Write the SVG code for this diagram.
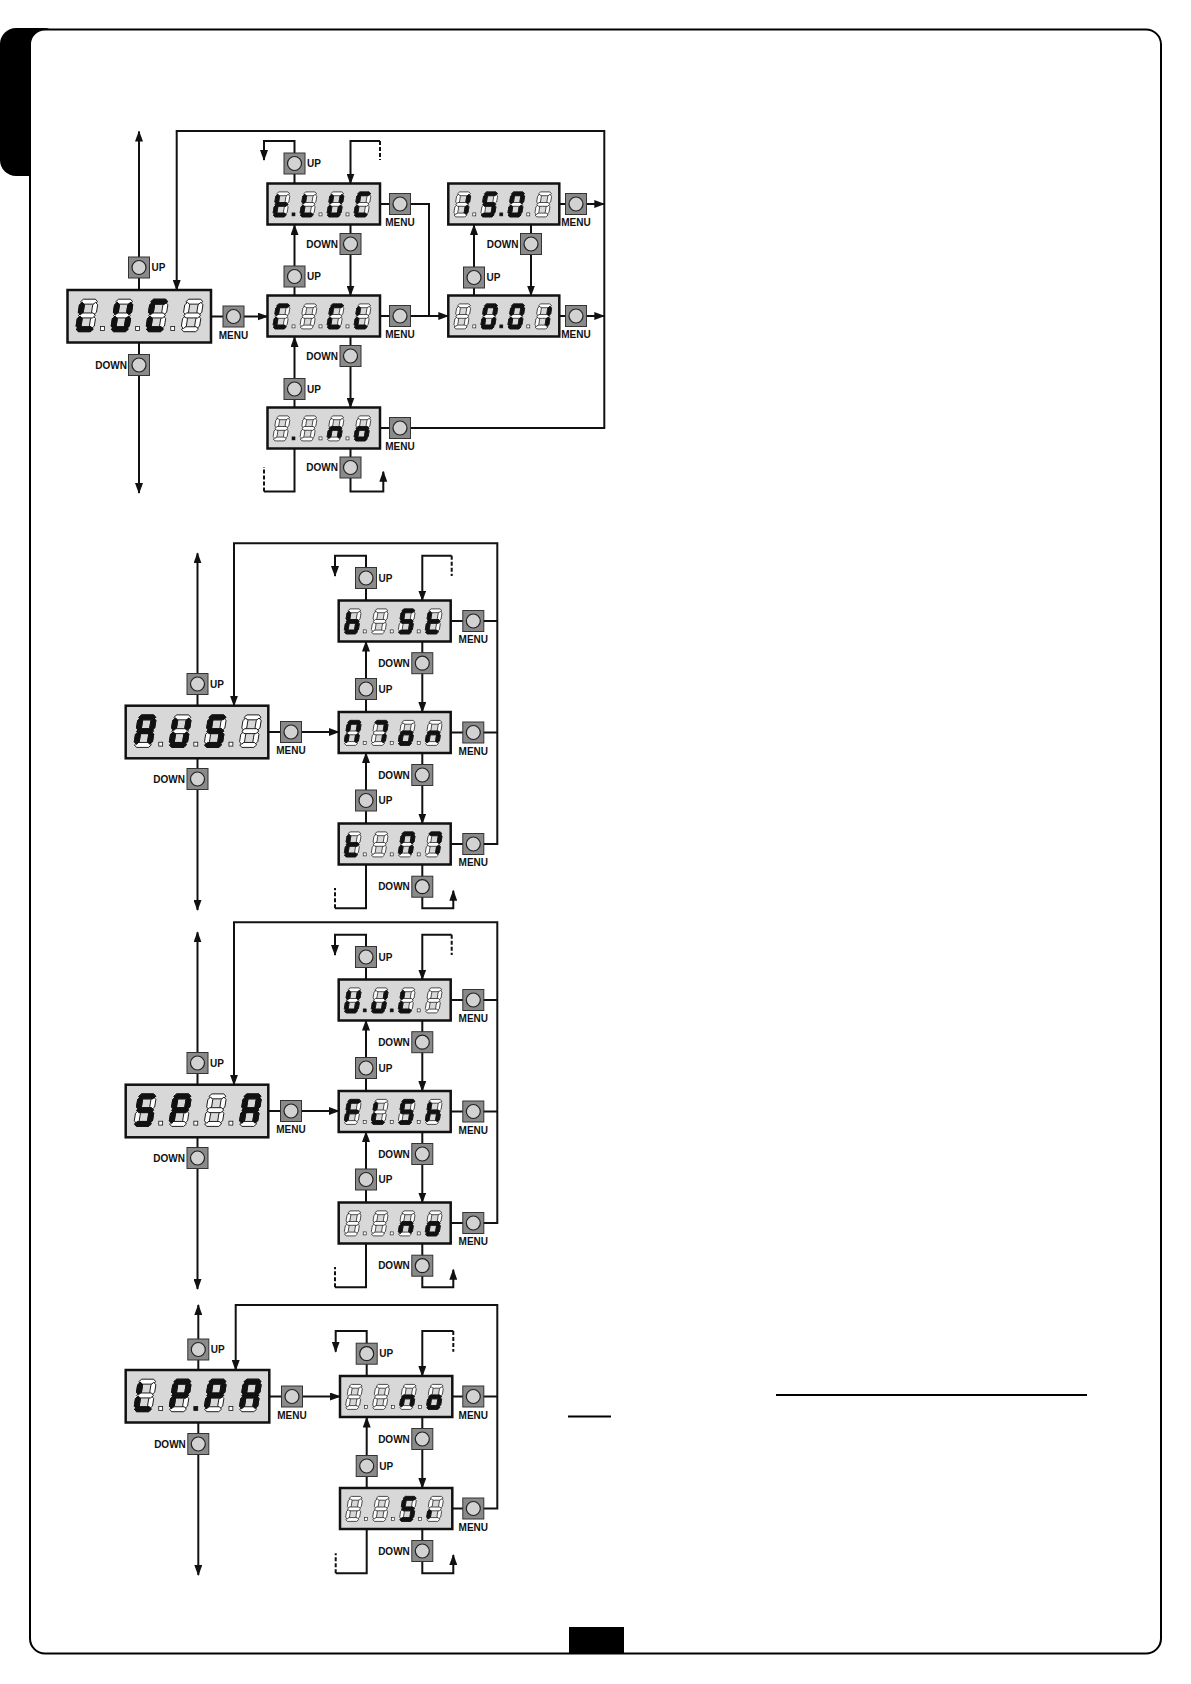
<svg xmlns="http://www.w3.org/2000/svg" width="1191" height="1684" viewBox="0 0 1191 1684">
<style>
.disp{fill:#d8d8d8;stroke:#111;stroke-width:2.5}
.cn{fill:none;stroke:#111;stroke-width:2}
.ar{marker-end:url(#ah)}
.dash{fill:none;stroke:#111;stroke-width:2;stroke-dasharray:4 2}
.lbl{font-family:"Liberation Sans",Arial,sans-serif;font-weight:bold;font-size:10px;fill:#111}
.dn{text-anchor:end}
.mn{text-anchor:middle}
</style>
<defs>
<marker id="ah" viewBox="0 0 11 8" refX="10" refY="4" markerWidth="11" markerHeight="8" markerUnits="userSpaceOnUse" orient="auto"><path d="M0,0 L11,4 L0,8 z" fill="#111"/></marker>
<polygon id="sa" points="0.5,-23.1 2.4,-25 11.6,-25 13.5,-23.1 11.6,-21.2 2.4,-21.2"/>
<polygon id="sg" points="0.5,-12.5 2.4,-14.4 11.6,-14.4 13.5,-12.5 11.6,-10.6 2.4,-10.6"/>
<polygon id="sd" points="0.5,-1.9 2.4,-3.8 11.6,-3.8 13.5,-1.9 11.6,0 2.4,0"/>
<polygon id="sf" points="1.9,-22.6 3.8,-20.7 3.8,-14.9 1.9,-13 0,-14.9 0,-20.7"/>
<polygon id="sb" points="12.1,-22.6 14,-20.7 14,-14.9 12.1,-13 10.2,-14.9 10.2,-20.7"/>
<polygon id="se" points="1.9,-12 3.8,-10.1 3.8,-4.3 1.9,-2.4 0,-4.3 0,-10.1"/>
<polygon id="sc" points="12.1,-12 14,-10.1 14,-4.3 12.1,-2.4 10.2,-4.3 10.2,-10.1"/>
<g id="g8" transform="skewX(-9)" fill="#fff" stroke="#111" stroke-width="0.7"><use href="#sa"/><use href="#sb"/><use href="#sc"/><use href="#sd"/><use href="#se"/><use href="#sf"/><use href="#sg"/></g>
<g id="gL"><use href="#g8"/><g transform="skewX(-9)" fill="#111" stroke="#111" stroke-width="0.7"><use href="#sd"/><use href="#se"/><use href="#sf"/></g></g>
<g id="gU"><use href="#g8"/><g transform="skewX(-9)" fill="#111" stroke="#111" stroke-width="0.7"><use href="#sb"/><use href="#sc"/><use href="#sd"/><use href="#se"/><use href="#sf"/></g></g>
<g id="gC"><use href="#g8"/><g transform="skewX(-9)" fill="#111" stroke="#111" stroke-width="0.7"><use href="#sa"/><use href="#sd"/><use href="#se"/><use href="#sf"/></g></g>
<g id="gt"><use href="#g8"/><g transform="skewX(-9)" fill="#111" stroke="#111" stroke-width="0.7"><use href="#sd"/><use href="#se"/><use href="#sf"/><use href="#sg"/></g></g>
<g id="gA"><use href="#g8"/><g transform="skewX(-9)" fill="#111" stroke="#111" stroke-width="0.7"><use href="#sa"/><use href="#sb"/><use href="#sc"/><use href="#se"/><use href="#sf"/><use href="#sg"/></g></g>
<g id="gS"><use href="#g8"/><g transform="skewX(-9)" fill="#111" stroke="#111" stroke-width="0.7"><use href="#sa"/><use href="#sc"/><use href="#sd"/><use href="#sf"/><use href="#sg"/></g></g>
<g id="gb"><use href="#g8"/><g transform="skewX(-9)" fill="#111" stroke="#111" stroke-width="0.7"><use href="#sc"/><use href="#sd"/><use href="#se"/><use href="#sf"/><use href="#sg"/></g></g>
<g id="gM1"><use href="#g8"/><g transform="skewX(-9)" fill="#111" stroke="#111" stroke-width="0.7"><use href="#sa"/><use href="#sb"/><use href="#sc"/><use href="#se"/><use href="#sf"/></g></g>
<g id="gM2"><use href="#g8"/><g transform="skewX(-9)" fill="#111" stroke="#111" stroke-width="0.7"><use href="#sa"/><use href="#sb"/><use href="#sc"/></g></g>
<g id="go"><use href="#g8"/><g transform="skewX(-9)" fill="#111" stroke="#111" stroke-width="0.7"><use href="#sc"/><use href="#sd"/><use href="#se"/><use href="#sg"/></g></g>
<g id="gn"><use href="#g8"/><g transform="skewX(-9)" fill="#111" stroke="#111" stroke-width="0.7"><use href="#sc"/><use href="#se"/><use href="#sg"/></g></g>
<g id="gF"><use href="#g8"/><g transform="skewX(-9)" fill="#111" stroke="#111" stroke-width="0.7"><use href="#sa"/><use href="#se"/><use href="#sf"/><use href="#sg"/></g></g>
<g id="gh"><use href="#g8"/><g transform="skewX(-9)" fill="#111" stroke="#111" stroke-width="0.7"><use href="#sc"/><use href="#se"/><use href="#sf"/><use href="#sg"/></g></g>
<g id="gP"><use href="#g8"/><g transform="skewX(-9)" fill="#111" stroke="#111" stroke-width="0.7"><use href="#sa"/><use href="#sb"/><use href="#se"/><use href="#sf"/><use href="#sg"/></g></g>
<g id="g1"><use href="#g8"/><g transform="skewX(-9)" fill="#111" stroke="#111" stroke-width="0.7"><use href="#sb"/><use href="#sc"/></g></g>
<g id="g0"><use href="#g8"/><g transform="skewX(-9)" fill="#111" stroke="#111" stroke-width="0.7"><use href="#sa"/><use href="#sb"/><use href="#sc"/><use href="#sd"/><use href="#se"/><use href="#sf"/></g></g>
<g id="gi"><use href="#g8"/><g transform="skewX(-9)" fill="#111" stroke="#111" stroke-width="0.7"><use href="#se"/></g></g>
<g id="gJ"><use href="#g8"/><g transform="skewX(-9)" fill="#111" stroke="#111" stroke-width="0.7"><use href="#sb"/><use href="#sc"/><use href="#sd"/><use href="#se"/></g></g>
<rect id="dp0" x="-1.5" y="-4" width="3" height="3" fill="#fff" stroke="#111" stroke-width="0.6"/>
<rect id="dp1" x="-1.5" y="-4" width="3" height="3" fill="#111" stroke="#111" stroke-width="0.6"/>
<g id="btn"><rect x="-10.5" y="-10.5" width="21" height="21" fill="#8a8a8a" stroke="#333" stroke-width="1"/><circle r="7" fill="#d2d2d2" stroke="#222" stroke-width="1.2"/></g>
</defs>

<g id="page">
<rect x="0" y="28" width="60" height="148" rx="16" fill="#000"/>
<rect x="30" y="29.5" width="1131" height="1624" rx="15" fill="#fff" stroke="#000" stroke-width="2"/>
<rect x="569" y="1627" width="55" height="27" fill="#000"/>
<line x1="776" y1="1395" x2="1087" y2="1395" stroke="#000" stroke-width="2"/>
<line x1="568" y1="1416.5" x2="611" y2="1416.5" stroke="#000" stroke-width="2"/>
</g>

<g id="connectors">
<!-- section 1 -->
<path class="cn ar" d="M139,290 V131.5"/>
<path class="cn ar" d="M139,342.5 V493"/>
<path class="cn ar" d="M211,316.5 H267.5"/>
<path class="cn ar" d="M380,428 H604.3 V131 H176.7 V290"/>
<path class="cn ar" d="M294.5,183.5 V141 H264 V160"/>
<path class="cn ar" d="M380,141 H350.5 V183.5"/>
<path class="dash" d="M380,141 V160"/>
<path class="cn ar" d="M294.5,295.5 V225"/>
<path class="cn ar" d="M350.5,225 V295.5"/>
<path class="cn ar" d="M294.5,407.5 V337"/>
<path class="cn ar" d="M350.5,337 V407.5"/>
<path class="cn" d="M294.5,448.5 V491.5 H264"/>
<path class="dash" d="M264,491.5 V467"/>
<path class="cn ar" d="M350.5,448.5 V491.5 H383.3 V471.7"/>
<path class="cn" d="M380,204 H429 V316"/>
<path class="cn ar" d="M380,316 H448.3"/>
<path class="cn ar" d="M474,295.5 V225"/>
<path class="cn ar" d="M531,225 V295.5"/>
<path class="cn ar" d="M559.3,204 H604.3"/>
<path class="cn ar" d="M559.3,316 H604.3"/>
<!-- section 2 and 3 -->
<g id="conn-s2">
<path class="cn ar" d="M197.5,705.7 V553.3"/>
<path class="cn ar" d="M197.5,758.3 V910"/>
<path class="cn ar" d="M268.3,732 H338.7"/>
<path class="cn ar" d="M450.7,844 H497.3 V543.3 H234 V705.7"/>
<path class="cn" d="M450.7,621 H497.3"/>
<path class="cn" d="M450.7,732.5 H497.3"/>
<path class="cn ar" d="M366,600.5 V555.7 H335 V576"/>
<path class="cn ar" d="M451.7,555.7 H422.3 V600.5"/>
<path class="dash" d="M451.7,555.7 V576"/>
<path class="cn ar" d="M366,712 V641.5"/>
<path class="cn ar" d="M422.3,641.5 V712"/>
<path class="cn ar" d="M366,823.5 V753"/>
<path class="cn ar" d="M422.3,753 V823.5"/>
<path class="cn" d="M366,864.5 V908.3 H335"/>
<path class="dash" d="M335,908.3 V888"/>
<path class="cn ar" d="M422.3,864.5 V908.3 H453.3 V890.7"/>
</g>
<g id="conn-s3" transform="translate(0,379)">
<path class="cn ar" d="M197.5,705.7 V553.3"/>
<path class="cn ar" d="M197.5,758.3 V910"/>
<path class="cn ar" d="M268.3,732 H338.7"/>
<path class="cn ar" d="M450.7,844 H497.3 V543.3 H234 V705.7"/>
<path class="cn" d="M450.7,621 H497.3"/>
<path class="cn" d="M450.7,732.5 H497.3"/>
<path class="cn ar" d="M366,600.5 V555.7 H335 V576"/>
<path class="cn ar" d="M451.7,555.7 H422.3 V600.5"/>
<path class="dash" d="M451.7,555.7 V576"/>
<path class="cn ar" d="M366,712 V641.5"/>
<path class="cn ar" d="M422.3,641.5 V712"/>
<path class="cn ar" d="M366,823.5 V753"/>
<path class="cn ar" d="M422.3,753 V823.5"/>
<path class="cn" d="M366,864.5 V908.3 H335"/>
<path class="dash" d="M335,908.3 V888"/>
<path class="cn ar" d="M422.3,864.5 V908.3 H453.3 V890.7"/>
</g>
<!-- section 4 -->
<path class="cn ar" d="M198.3,1370 V1305"/>
<path class="cn ar" d="M198.3,1422.5 V1575"/>
<path class="cn ar" d="M269.3,1396.5 H340"/>
<path class="cn ar" d="M452.3,1508.5 H497.3 V1305 H235.7 V1370"/>
<path class="cn" d="M452.3,1396.5 H497.3"/>
<path class="cn ar" d="M366.7,1376 V1331 H335.7 V1351.7"/>
<path class="cn ar" d="M453.3,1331 H422.3 V1376"/>
<path class="dash" d="M453.3,1331 V1351.7"/>
<path class="cn ar" d="M366.7,1488 V1417.5"/>
<path class="cn ar" d="M422.3,1417.5 V1488"/>
<path class="cn" d="M366.7,1529 V1573.3 H335.7"/>
<path class="dash" d="M335.7,1573.3 V1553.3"/>
<path class="cn ar" d="M422.3,1529 V1573.3 H453.3 V1555"/>
</g>

<g id="nodes">
<!-- Section 1 displays -->
<g id="n-luci" transform="translate(67.5,290)"><rect class="disp" width="143.5" height="52.5"/><g transform="translate(7.7,41.7) scale(1.3)"><use href="#gL"/><use href="#gU" x="27"/><use href="#gC" x="54"/><use href="#g8" x="81"/><use href="#dp0" x="21"/><use href="#dp0" x="48"/><use href="#dp0" x="75"/></g></g>
<g id="n-tluc" transform="translate(267.5,183.5)"><rect class="disp" width="112.5" height="41"/><g transform="translate(5,33.4)"><use href="#gt"/><use href="#gL" x="27"/><use href="#gU" x="54"/><use href="#gC" x="81"/><use href="#dp1" x="21"/><use href="#dp0" x="48"/><use href="#dp0" x="75"/></g></g>
<g id="n-cicl" transform="translate(267.5,295.5)"><rect class="disp" width="112.5" height="41"/><g transform="translate(5,33.4)"><use href="#gC"/><use href="#g8" x="27"/><use href="#gC" x="54"/><use href="#gL" x="81"/><use href="#dp0" x="21"/><use href="#dp0" x="48"/><use href="#dp0" x="75"/></g></g>
<g id="n-s1no" transform="translate(267.5,407.5)"><rect class="disp" width="112.5" height="41"/><g transform="translate(5,33.4)"><use href="#g8"/><use href="#g8" x="27"/><use href="#gn" x="54"/><use href="#go" x="81"/><use href="#dp1" x="21"/><use href="#dp0" x="48"/><use href="#dp0" x="75"/></g></g>
<g id="n-1501" transform="translate(448.3,183.5)"><rect class="disp" width="111" height="41"/><g transform="translate(5,33.4)"><use href="#g1"/><use href="#gS" x="27"/><use href="#g0" x="54"/><use href="#g8" x="81"/><use href="#dp0" x="21"/><use href="#dp1" x="48"/><use href="#dp0" x="75"/></g></g>
<g id="n-001" transform="translate(448.3,295.5)"><rect class="disp" width="111" height="41"/><g transform="translate(5,33.4)"><use href="#g8"/><use href="#g0" x="27"/><use href="#g0" x="54"/><use href="#g1" x="81"/><use href="#dp0" x="21"/><use href="#dp1" x="48"/><use href="#dp0" x="75"/></g></g>

<!-- Section 2 displays -->
<g id="n-aus" transform="translate(125.7,705.7)"><rect class="disp" width="142.6" height="52.6"/><g transform="translate(7.7,41.7) scale(1.3)"><use href="#gA"/><use href="#gU" x="27"/><use href="#gS" x="54"/><use href="#g8" x="81"/><use href="#dp0" x="21"/><use href="#dp0" x="48"/><use href="#dp0" x="75"/></g></g>
<g id="n-bist" transform="translate(338.7,600.5)"><rect class="disp" width="112" height="41"/><g transform="translate(5,33.4)"><use href="#gb"/><use href="#g8" x="27"/><use href="#gS" x="54"/><use href="#gt" x="81"/><use href="#dp0" x="21"/><use href="#dp0" x="48"/><use href="#dp0" x="75"/></g></g>
<g id="n-mon" transform="translate(338.7,712)"><rect class="disp" width="112" height="41"/><g transform="translate(5,33.4)"><use href="#gM1"/><use href="#gM2" x="27"/><use href="#go" x="54"/><use href="#gn" x="81"/><use href="#dp0" x="21"/><use href="#dp0" x="48"/><use href="#dp0" x="75"/></g></g>
<g id="n-tim" transform="translate(338.7,823.5)"><rect class="disp" width="112" height="41"/><g transform="translate(5,33.4)"><use href="#gt"/><use href="#g8" x="27"/><use href="#gM1" x="54"/><use href="#gM2" x="81"/><use href="#dp0" x="21"/><use href="#dp0" x="48"/><use href="#dp0" x="75"/></g></g>

<!-- Section 3 displays -->
<g id="n-spia" transform="translate(125.7,1084.7)"><rect class="disp" width="142.6" height="52.6"/><g transform="translate(7.7,41.7) scale(1.3)"><use href="#gS"/><use href="#gP" x="27"/><use href="#g8" x="54"/><use href="#gA" x="81"/><use href="#dp0" x="21"/><use href="#dp0" x="48"/><use href="#dp0" x="75"/></g></g>
<g id="n-wl" transform="translate(338.7,979.5)"><rect class="disp" width="112" height="41"/><g transform="translate(5,33.4)"><use href="#gU"/><use href="#gJ" x="27"/><use href="#gL" x="54"/><use href="#g8" x="81"/><use href="#dp1" x="21"/><use href="#dp1" x="48"/><use href="#dp0" x="75"/></g></g>
<g id="n-flsh" transform="translate(338.7,1091)"><rect class="disp" width="112" height="41"/><g transform="translate(5,33.4)"><use href="#gF"/><use href="#gL" x="27"/><use href="#gS" x="54"/><use href="#gh" x="81"/><use href="#dp0" x="21"/><use href="#dp0" x="48"/><use href="#dp0" x="75"/></g></g>
<g id="n-s3no" transform="translate(338.7,1202.5)"><rect class="disp" width="112" height="41"/><g transform="translate(5,33.4)"><use href="#g8"/><use href="#g8" x="27"/><use href="#gn" x="54"/><use href="#go" x="81"/><use href="#dp0" x="21"/><use href="#dp0" x="48"/><use href="#dp0" x="75"/></g></g>

<!-- Section 4 displays -->
<g id="n-lppa" transform="translate(125.7,1370)"><rect class="disp" width="143.6" height="52.5"/><g transform="translate(7.7,41.7) scale(1.3)"><use href="#gL"/><use href="#gP" x="27"/><use href="#gP" x="54"/><use href="#gA" x="81"/><use href="#dp0" x="21"/><use href="#dp1" x="48"/><use href="#dp0" x="75"/></g></g>
<g id="n-s4no" transform="translate(340,1376)"><rect class="disp" width="112.3" height="41"/><g transform="translate(5,33.4)"><use href="#g8"/><use href="#g8" x="27"/><use href="#gn" x="54"/><use href="#go" x="81"/><use href="#dp0" x="21"/><use href="#dp0" x="48"/><use href="#dp0" x="75"/></g></g>
<g id="n-si" transform="translate(340,1488)"><rect class="disp" width="112.3" height="41"/><g transform="translate(5,33.4)"><use href="#g8"/><use href="#g8" x="27"/><use href="#gS" x="54"/><use href="#gi" x="81"/><use href="#dp0" x="21"/><use href="#dp0" x="48"/><use href="#dp0" x="75"/></g></g>

<!-- Section 1 buttons -->
<g id="b1-up0"><use href="#btn" x="139" y="267.5"/><text class="lbl" x="151.5" y="271.1">UP</text></g>
<g id="b1-dn0"><use href="#btn" x="139" y="365"/><text class="lbl dn" x="127" y="368.6">DOWN</text></g>
<g id="b1-mn0"><use href="#btn" x="233.5" y="316.5"/><text class="lbl mn" x="233.5" y="338.5">MENU</text></g>
<g id="b1-up1"><use href="#btn" x="294.5" y="163.5"/><text class="lbl" x="307" y="167.1">UP</text></g>
<g id="b1-dn1"><use href="#btn" x="350.5" y="244"/><text class="lbl dn" x="338" y="247.6">DOWN</text></g>
<g id="b1-up2"><use href="#btn" x="294.5" y="276.5"/><text class="lbl" x="307" y="280.1">UP</text></g>
<g id="b1-dn2"><use href="#btn" x="350.5" y="356"/><text class="lbl dn" x="338" y="359.6">DOWN</text></g>
<g id="b1-up3"><use href="#btn" x="294.5" y="389"/><text class="lbl" x="307" y="392.6">UP</text></g>
<g id="b1-dn3"><use href="#btn" x="350.5" y="467.5"/><text class="lbl dn" x="338" y="471.1">DOWN</text></g>
<g id="b1-mn1"><use href="#btn" x="400" y="204"/><text class="lbl mn" x="400" y="226">MENU</text></g>
<g id="b1-mn2"><use href="#btn" x="400" y="316"/><text class="lbl mn" x="400" y="338">MENU</text></g>
<g id="b1-mn3"><use href="#btn" x="400" y="428"/><text class="lbl mn" x="400" y="450">MENU</text></g>
<g id="b1-dn4"><use href="#btn" x="531" y="244"/><text class="lbl dn" x="518.5" y="247.6">DOWN</text></g>
<g id="b1-up4"><use href="#btn" x="474" y="277.5"/><text class="lbl" x="486.5" y="281.1">UP</text></g>
<g id="b1-mn4"><use href="#btn" x="576" y="204"/><text class="lbl mn" x="576" y="226">MENU</text></g>
<g id="b1-mn5"><use href="#btn" x="576" y="316"/><text class="lbl mn" x="576" y="338">MENU</text></g>

<!-- Section 2 buttons -->
<g id="b2-up0"><use href="#btn" x="197.5" y="684"/><text class="lbl" x="210" y="687.6">UP</text></g>
<g id="b2-dn0"><use href="#btn" x="197.5" y="779"/><text class="lbl dn" x="185" y="782.6">DOWN</text></g>
<g id="b2-mn0"><use href="#btn" x="291" y="732"/><text class="lbl mn" x="291" y="754">MENU</text></g>
<g id="b2-up1"><use href="#btn" x="366" y="578"/><text class="lbl" x="378.5" y="581.6">UP</text></g>
<g id="b2-dn1"><use href="#btn" x="422.3" y="663.2"/><text class="lbl dn" x="409.8" y="666.8">DOWN</text></g>
<g id="b2-up2"><use href="#btn" x="366" y="689"/><text class="lbl" x="378.5" y="692.6">UP</text></g>
<g id="b2-dn2"><use href="#btn" x="422.3" y="775"/><text class="lbl dn" x="409.8" y="778.6">DOWN</text></g>
<g id="b2-up3"><use href="#btn" x="366" y="800.5"/><text class="lbl" x="378.5" y="804.1">UP</text></g>
<g id="b2-dn3"><use href="#btn" x="422.3" y="886.7"/><text class="lbl dn" x="409.8" y="890.3">DOWN</text></g>
<g id="b2-mn1"><use href="#btn" x="473.3" y="621"/><text class="lbl mn" x="473.3" y="643">MENU</text></g>
<g id="b2-mn2"><use href="#btn" x="473.3" y="732.5"/><text class="lbl mn" x="473.3" y="754.5">MENU</text></g>
<g id="b2-mn3"><use href="#btn" x="473.3" y="844"/><text class="lbl mn" x="473.3" y="866">MENU</text></g>

<!-- Section 3 buttons -->
<g id="b3-up0"><use href="#btn" x="197.5" y="1063"/><text class="lbl" x="210" y="1066.6">UP</text></g>
<g id="b3-dn0"><use href="#btn" x="197.5" y="1158"/><text class="lbl dn" x="185" y="1161.6">DOWN</text></g>
<g id="b3-mn0"><use href="#btn" x="291" y="1111"/><text class="lbl mn" x="291" y="1133">MENU</text></g>
<g id="b3-up1"><use href="#btn" x="366" y="957"/><text class="lbl" x="378.5" y="960.6">UP</text></g>
<g id="b3-dn1"><use href="#btn" x="422.3" y="1042.2"/><text class="lbl dn" x="409.8" y="1045.8">DOWN</text></g>
<g id="b3-up2"><use href="#btn" x="366" y="1068"/><text class="lbl" x="378.5" y="1071.6">UP</text></g>
<g id="b3-dn2"><use href="#btn" x="422.3" y="1154"/><text class="lbl dn" x="409.8" y="1157.6">DOWN</text></g>
<g id="b3-up3"><use href="#btn" x="366" y="1179.5"/><text class="lbl" x="378.5" y="1183.1">UP</text></g>
<g id="b3-dn3"><use href="#btn" x="422.3" y="1265.7"/><text class="lbl dn" x="409.8" y="1269.3">DOWN</text></g>
<g id="b3-mn1"><use href="#btn" x="473.3" y="1000"/><text class="lbl mn" x="473.3" y="1022">MENU</text></g>
<g id="b3-mn2"><use href="#btn" x="473.3" y="1111.5"/><text class="lbl mn" x="473.3" y="1133.5">MENU</text></g>
<g id="b3-mn3"><use href="#btn" x="473.3" y="1223"/><text class="lbl mn" x="473.3" y="1245">MENU</text></g>

<!-- Section 4 buttons -->
<g id="b4-up0"><use href="#btn" x="198.3" y="1349.5"/><text class="lbl" x="210.8" y="1353.1">UP</text></g>
<g id="b4-dn0"><use href="#btn" x="198.3" y="1444"/><text class="lbl dn" x="185.8" y="1447.6">DOWN</text></g>
<g id="b4-mn0"><use href="#btn" x="292" y="1396.5"/><text class="lbl mn" x="292" y="1418.5">MENU</text></g>
<g id="b4-up1"><use href="#btn" x="366.7" y="1353.7"/><text class="lbl" x="379.2" y="1357.3">UP</text></g>
<g id="b4-dn1"><use href="#btn" x="422.3" y="1439"/><text class="lbl dn" x="409.8" y="1442.6">DOWN</text></g>
<g id="b4-up2"><use href="#btn" x="366.7" y="1466"/><text class="lbl" x="379.2" y="1469.6">UP</text></g>
<g id="b4-dn2"><use href="#btn" x="422.3" y="1551"/><text class="lbl dn" x="409.8" y="1554.6">DOWN</text></g>
<g id="b4-mn1"><use href="#btn" x="473.3" y="1396.5"/><text class="lbl mn" x="473.3" y="1418.5">MENU</text></g>
<g id="b4-mn2"><use href="#btn" x="473.3" y="1508.5"/><text class="lbl mn" x="473.3" y="1530.5">MENU</text></g>
</g>
</svg>
